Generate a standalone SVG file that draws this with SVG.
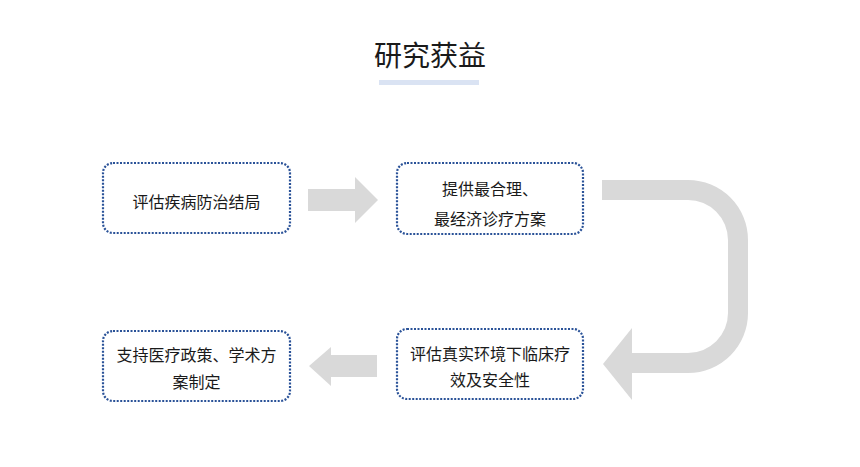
<svg xmlns="http://www.w3.org/2000/svg" width="860" height="467" viewBox="0 0 860 467">
  <style>
    .box { fill: #ffffff; stroke: #2a5298; stroke-width: 2.2; stroke-dasharray: 2 1.5; }
    .txt { font-family: "Noto Sans CJK SC", "Liberation Sans", sans-serif; font-size: 16px; fill: #1a1a1a; text-anchor: middle; }
    .arrow { fill: #d9d9d9; stroke: none; }
  </style>
  <rect width="860" height="467" fill="#ffffff"/>
  <g id="title">
    <text x="430" y="66" style="font-family: 'Noto Sans CJK SC', 'Liberation Sans', sans-serif; font-size: 28px; fill: #1a1a1a; text-anchor: middle;">研究获益</text>
    <rect x="379" y="80" width="100" height="5" fill="#dae3f3"/>
  </g>
  <g id="connectors">
    <path class="arrow" d="M308,189 H355 V177 L378,200 L355,223 V211 H308 Z"/>
    <path class="arrow" d="M602,180 H688 A60,60 0 0 1 748,240 V313 A60,60 0 0 1 688,373 H632 V400 L603,364 L632,328 V353 H688 A40,40 0 0 0 728,313 V240 A40,40 0 0 0 688,200 H602 Z"/>
    <path class="arrow" d="M377,355 H331 V347 L309,366 L331,386 V377 H377 Z"/>
  </g>
  <g id="node1">
    <rect class="box" x="103" y="163" width="187" height="70" rx="10" ry="10"/>
    <text class="txt" x="196.5" y="208">评估疾病防治结局</text>
  </g>
  <g id="node2">
    <rect class="box" x="397" y="163" width="186" height="71" rx="10" ry="10"/>
    <text class="txt" x="490" y="194.5">提供最合理、</text>
    <text class="txt" x="490" y="224.5">最经济诊疗方案</text>
  </g>
  <g id="node3">
    <rect class="box" x="397" y="329" width="186" height="70" rx="10" ry="10"/>
    <text class="txt" x="490" y="360">评估真实环境下临床疗</text>
    <text class="txt" x="490" y="386">效及安全性</text>
  </g>
  <g id="node4">
    <rect class="box" x="103" y="331" width="187" height="70" rx="10" ry="10"/>
    <text class="txt" x="196.5" y="361">支持医疗政策、学术方</text>
    <text class="txt" x="196.5" y="388">案制定</text>
  </g>
</svg>
